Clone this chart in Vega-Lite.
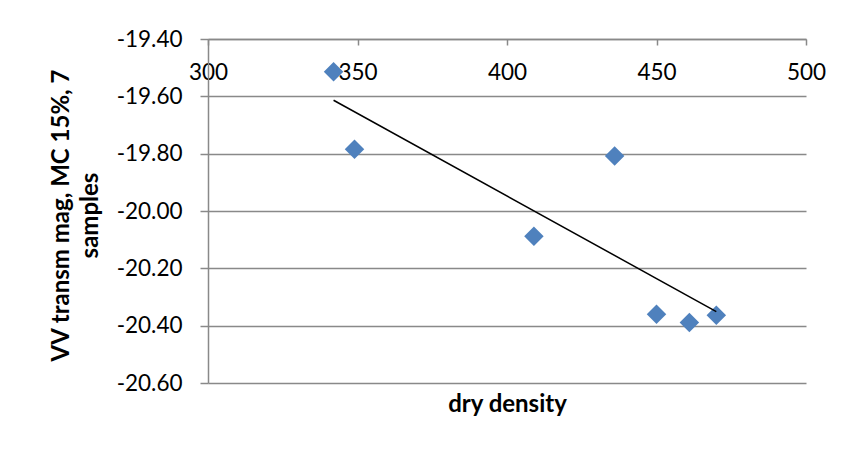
{
  "$schema": "https://vega.github.io/schema/vega-lite/v6.json",
  "width": 598,
  "height": 344,
  "autosize": "none",
  "padding": {"left": 208, "top": 39, "right": 39, "bottom": 67},
  "background": "white",
  "config": {
    "locale": {"number": {"decimal": ".", "thousands": ",", "grouping": [3], "currency": ["$", ""], "minus": "-"}},
    "view": {"stroke": null},
    "font": "Lato"
  },
  "data": {
    "values": [
      {"density": 342, "vv": -19.514},
      {"density": 349, "vv": -19.785},
      {"density": 409, "vv": -20.088},
      {"density": 436, "vv": -19.808},
      {"density": 450, "vv": -20.36},
      {"density": 461, "vv": -20.389},
      {"density": 470, "vv": -20.364}
    ]
  },
  "layer": [
    {
      "mark": {"type": "point", "shape": "diamond", "filled": true, "size": 380, "color": "#4F81BD", "opacity": 1},
      "encoding": {
        "x": {
          "field": "density",
          "type": "quantitative",
          "scale": {"domain": [300, 500], "nice": false, "zero": false},
          "axis": {
            "orient": "top",
            "title": "dry density",
            "titleFont": "Lato",
            "titleFontSize": 24,
            "titleFontWeight": "bold",
            "titleColor": "#000000",
            "titleAnchor": "middle",
            "titleY": 365,
            "titleBaseline": "middle",
            "values": [300, 350, 400, 450, 500],
            "format": "d",
            "labelFont": "Lato",
            "labelFontSize": 22.5,
            "labelColor": "#000000",
            "labelBaseline": "middle",
            "labelPadding": -27,
            "labelFlush": false,
            "tickSize": -6,
            "tickColor": "#898989",
            "tickWidth": 1.5,
            "domainColor": "#898989",
            "domainWidth": 1.5,
            "grid": false
          }
        },
        "y": {
          "field": "vv",
          "type": "quantitative",
          "scale": {"domain": [-20.6, -19.4], "nice": false, "zero": false},
          "axis": {
            "title": ["VV transm mag, MC 15%, 7", "samples"],
            "titleFont": "Lato",
            "titleFontSize": 24,
            "titleFontWeight": "bold",
            "titleColor": "#000000",
            "titleLineHeight": 29,
            "titleX": -135,
            "titleY": 176,
            "titleAnchor": "middle",
            "values": [-20.6, -20.4, -20.2, -20.0, -19.8, -19.6, -19.4],
            "format": ".2f",
            "labelFont": "Lato",
            "labelFontSize": 22.5,
            "labelColor": "#000000",
            "labelPadding": 18,
            "tickSize": 8,
            "tickColor": "#898989",
            "tickWidth": 1.5,
            "domainColor": "#898989",
            "domainWidth": 1.5,
            "grid": true,
            "gridColor": "#898989",
            "gridWidth": 1.5
          }
        }
      }
    },
    {
      "transform": [{"regression": "vv", "on": "density"}],
      "mark": {"type": "line", "color": "#000000", "strokeWidth": 1.5},
      "encoding": {
        "x": {"field": "density", "type": "quantitative"},
        "y": {"field": "vv", "type": "quantitative"}
      }
    }
  ]
}
